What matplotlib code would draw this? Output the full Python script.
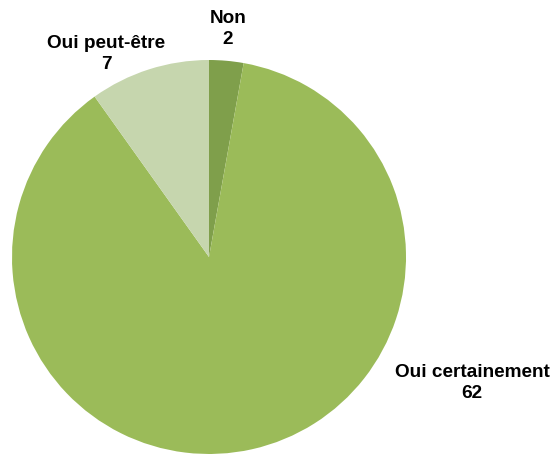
import matplotlib
matplotlib.use("Agg")
import matplotlib.pyplot as plt

labels = ["Non", "Oui certainement", "Oui peut-être"]
values = [2, 62, 7]
colors = ["#7F9F4B", "#9BBB59", "#C6D6AE"]

W, H = 554, 454
fig = plt.figure(figsize=(W / 100, H / 100), dpi=100)
ax = fig.add_axes([0, 0, 1, 1])

cx, cy, r = 209, H - 257, 197
ax.pie(values, colors=colors, startangle=90, counterclock=False,
       center=(cx, cy), radius=r, frame=True,
       wedgeprops=dict(linewidth=0))
ax.set_xlim(0, W)
ax.set_ylim(0, H)
ax.set_aspect("equal")
ax.axis("off")

label_pos = [(228, H - 29), (472, H - 383), (106, H - 54)]
for lab, v, (x, y) in zip(labels, values, label_pos):
    ax.text(x, y, f"{lab}\n{v}", ha="center", va="center", fontsize=13.7,
            fontweight="bold", family="Liberation Sans", linespacing=1.3,
            color="#000000")

fig.savefig("out.png", dpi=100)
